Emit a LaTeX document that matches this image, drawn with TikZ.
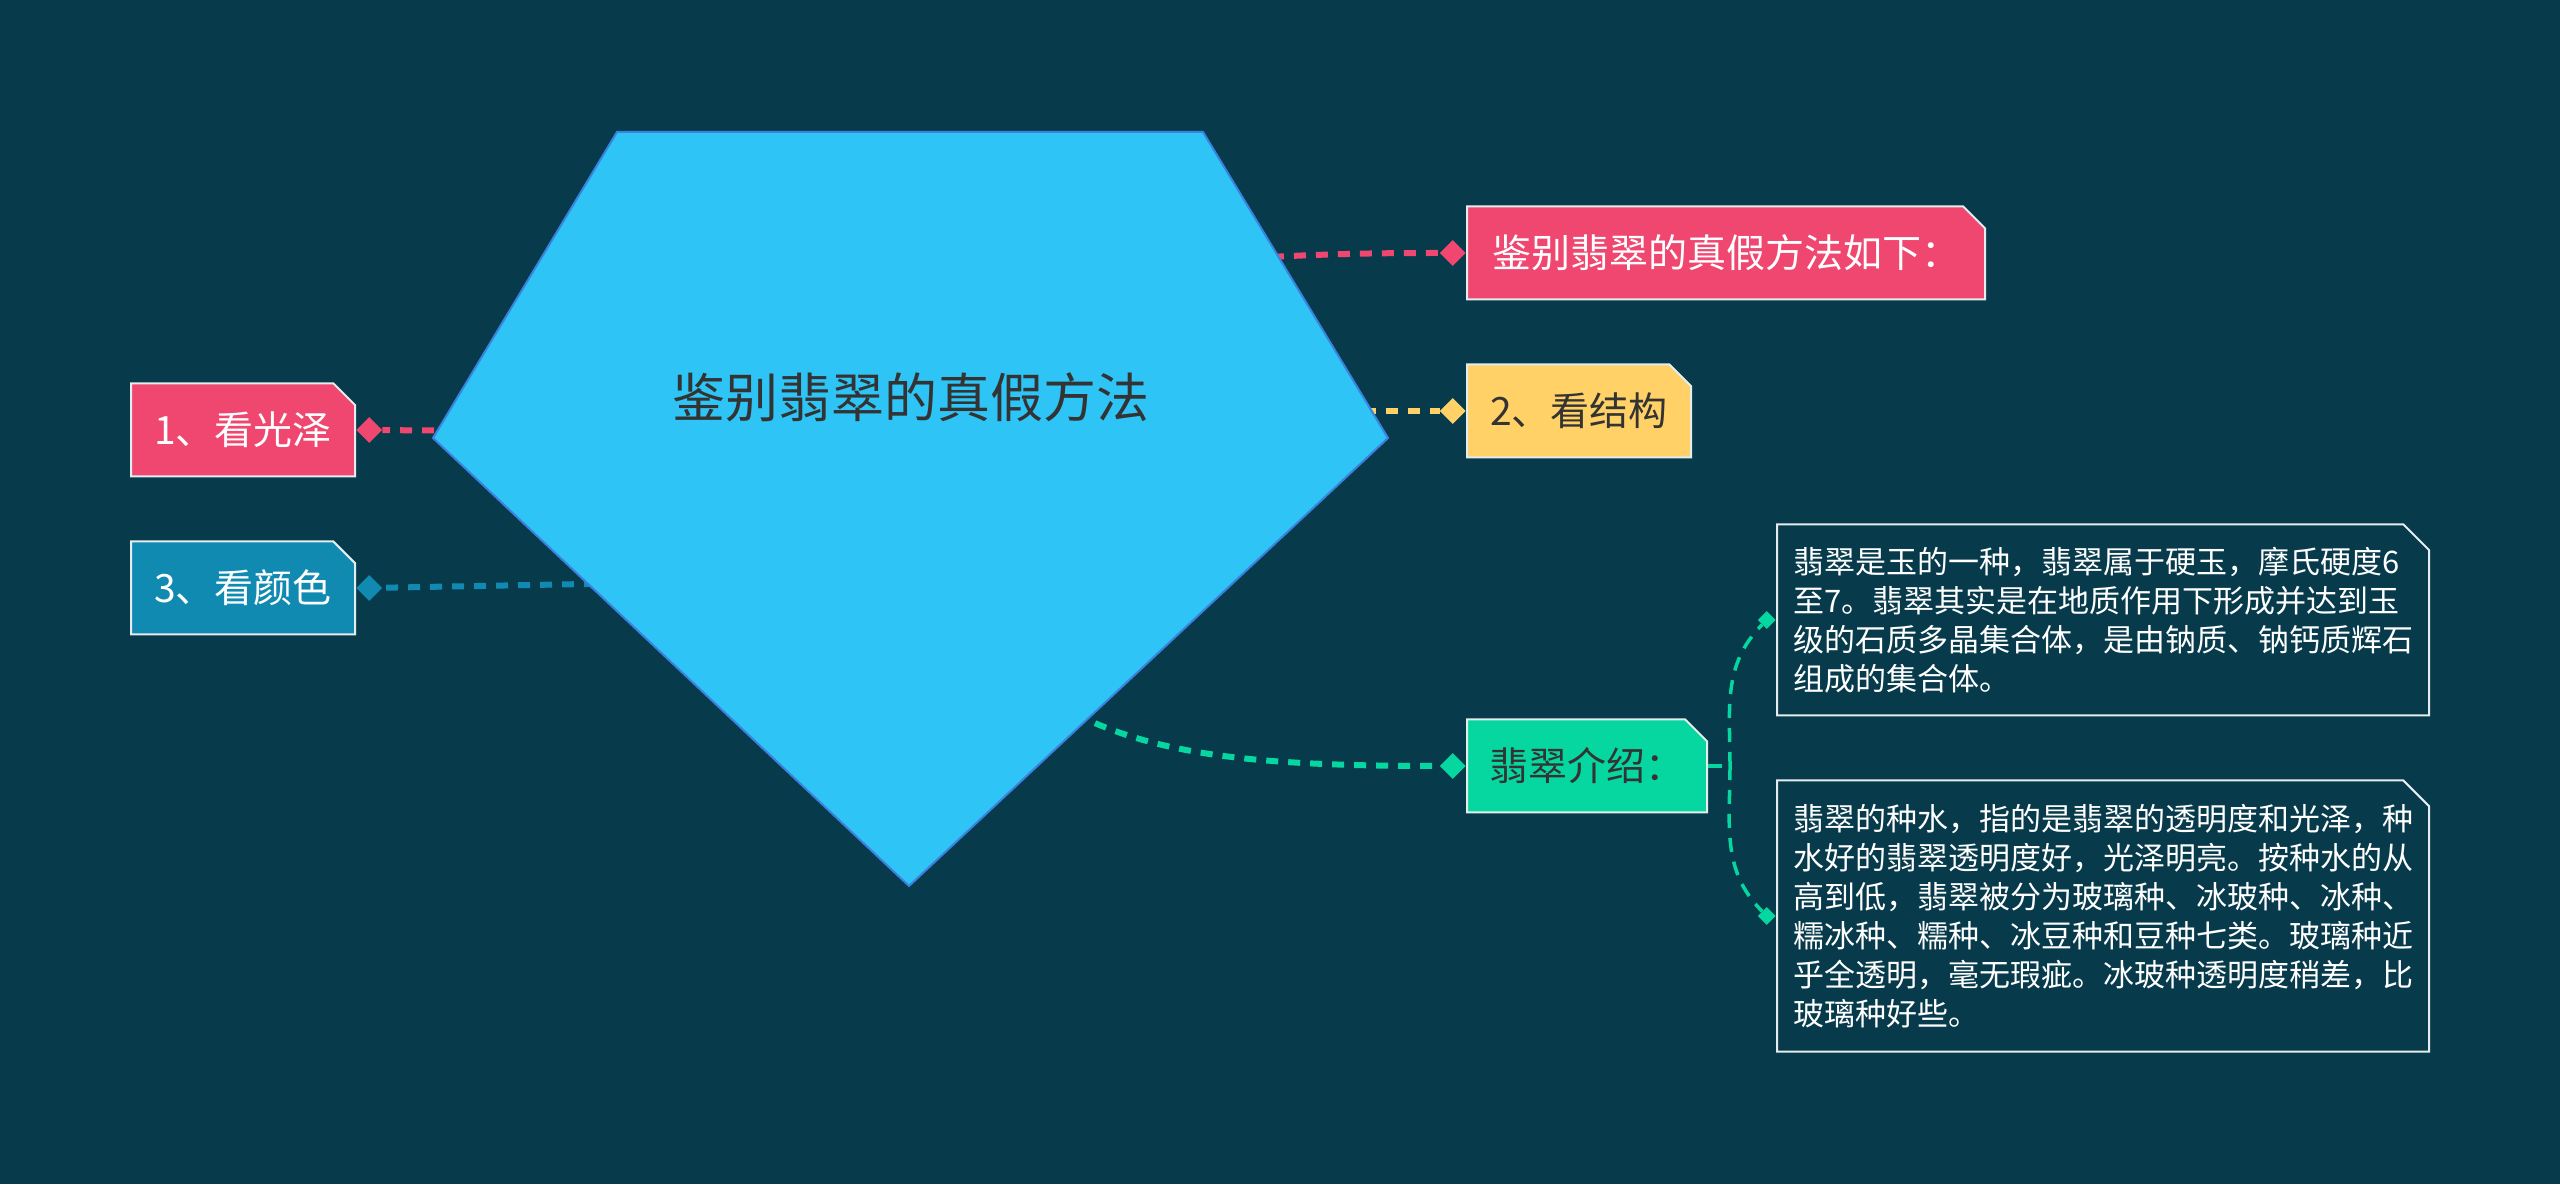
\documentclass[tikz,border=0pt]{standalone}
\usepackage{fontspec}
\setmainfont{Noto Sans CJK SC}
\usepackage{xcolor}
\usepackage{tikz}
\usetikzlibrary{shapes.geometric,shapes.misc}

\definecolor{bgc}{HTML}{073B4C}
\definecolor{pinkc}{HTML}{EF476F}
\definecolor{yellowc}{HTML}{FFD166}
\definecolor{greenc}{HTML}{06D6A0}
\definecolor{bluec}{HTML}{118AB2}
\definecolor{rootc}{HTML}{2EC4F6}
\definecolor{rootline}{HTML}{3B82E0}
\definecolor{inkc}{HTML}{333333}
\definecolor{rimc}{HTML}{E4ECEE}

\begin{document}
\begin{tikzpicture}[x=1pt, y=1pt,
    tag/.style={chamfered rectangle, chamfered rectangle corners=north east,
        chamfered rectangle xsep=22pt, draw=rimc, line width=2pt,
        minimum width=224, minimum height=93, inner sep=0pt,
        font=\fontsize{39}{47}\selectfont},
    note/.style={tag, fill=bgc, text=white, align=left, minimum width=652,
        inner xsep=-6pt, font=\fontsize{31}{39}\selectfont},
    dot/.style={diamond, fill=#1, inner sep=0pt, minimum width=26, minimum height=26},
    link/.style={draw=#1, line width=6pt, dash pattern=on 12pt off 10pt},
    twig/.style={draw=greenc, line width=3.5pt, dash pattern=on 14pt off 10pt}]
    \useasboundingbox (0,0) rectangle (2560,1184);
    \fill[bgc] (0,0) rectangle (2560,1184);

    % branches
    \node[tag, fill=pinkc, text=white, minimum width=518, anchor=west] (intro) at (1466,931) {鉴别翡翠的真假方法如下：};
    \node[tag, fill=yellowc, text=inkc, anchor=west] (jiegou) at (1466,773) {2、看结构};
    \node[tag, fill=pinkc, text=white, anchor=east] (guangze) at (356,754) {1、看光泽};
    \node[tag, fill=bluec, text=white, anchor=east] (yanse) at (356,596) {3、看颜色};
    \node[tag, fill=greenc, text=inkc, minimum width=240, anchor=west] (jieshao) at (1466,418) {翡翠介绍：};

    % leaves of 翡翠介绍
    \node[note, minimum height=191, anchor=west] (zhishi) at (1776,564)
        {翡翠是玉的一种，翡翠属于硬玉，摩氏硬度6\\至7。翡翠其实是在地质作用下形成并达到玉\\级的石质多晶集合体，是由钠质、钠钙质辉石\\组成的集合体。};
    \node[note, minimum height=271, anchor=west] (zhongshui) at (1776,268)
        {翡翠的种水，指的是翡翠的透明度和光泽，种\\水好的翡翠透明度好，光泽明亮。按种水的从\\高到低，翡翠被分为玻璃种、冰玻种、冰种、\\糯冰种、糯种、冰豆种和豆种七类。玻璃种近\\乎全透明，毫无瑕疵。冰玻种透明度稍差，比\\玻璃种好些。};

    % diamonds
    \node[dot=pinkc, anchor=east] (d1) at (intro.west) {};
    \node[dot=yellowc, anchor=east] (d2) at (jiegou.west) {};
    \node[dot=pinkc, anchor=west] (d3) at (guangze.east) {};
    \node[dot=bluec, anchor=west] (d4) at (yanse.east) {};
    \node[dot=greenc, anchor=east] (d5) at (jieshao.west) {};
    \node[dot=greenc, minimum size=18, anchor=east] (d6) at (zhishi.west) {};
    \node[dot=greenc, minimum size=18, anchor=east] (d7) at (zhongshui.west) {};

    % connectors (ends hidden under the pentagon)
    \coordinate (s1) at (1250,926);
    \coordinate (s2) at (1320,773);
    \coordinate (s3) at (500,753);
    \coordinate (s4) at (640,601);
    \coordinate (s5) at (1075,470);
    \coordinate (fork) at (1730,418);
    \draw[link=pinkc] (s1) to[out=3,in=180] (d1);
    \draw[link=yellowc] (s2) -- (d2);
    \draw[link=pinkc] (s3) -- (d3);
    \draw[link=bluec] (s4) -- (d4);
    \draw[link=greenc] (s5) .. controls (1160,428) and (1260,418) .. (d5);
    \draw[twig] (jieshao.east) -- (fork);
    \draw[twig] (fork) to[out=90,in=-135] (d6);
    \draw[twig] (fork) to[out=-90,in=135] (d7);

    % root
    \filldraw[fill=rootc, draw=rootline, line width=2pt] (617,1052) -- (1203,1052) -- (1388,746) -- (909,298) -- (433,746) -- cycle;
    \node[text=inkc, font=\fontsize{53}{64}\selectfont] (root) at (911,787) {鉴别翡翠的真假方法};
\end{tikzpicture}
\end{document}
